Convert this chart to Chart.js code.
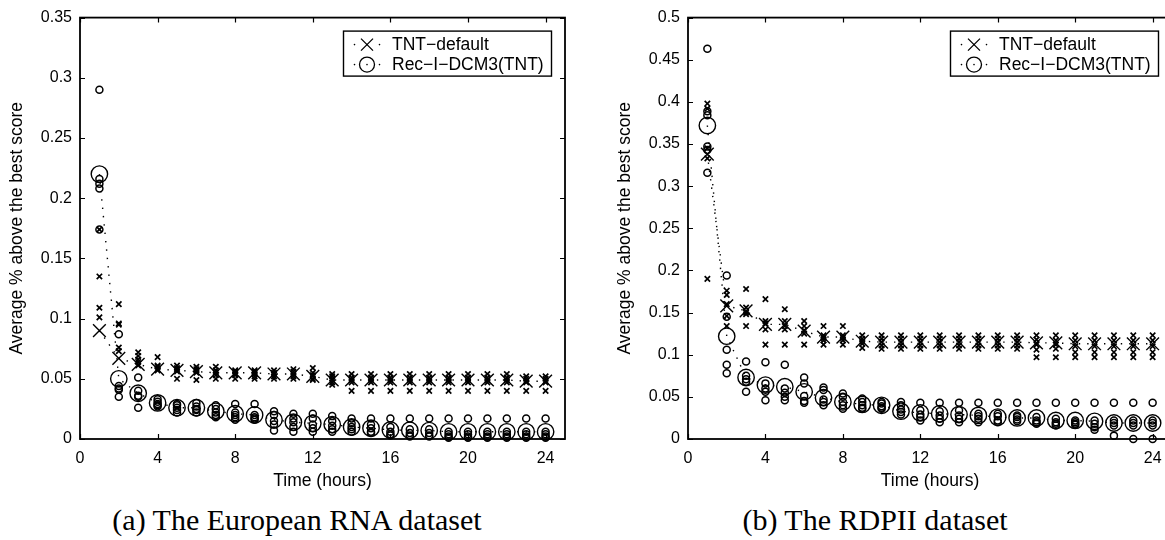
<!DOCTYPE html>
<html><head><meta charset="utf-8">
<script src="https://cdn.jsdelivr.net/npm/chart.js@4.4.1/dist/chart.umd.min.js"></script>
<style>
html,body{margin:0;padding:0;background:#fff;overflow:hidden;width:1165px;height:540px;position:relative}
.wrap{position:absolute;top:0;height:500px;overflow:visible}
#w1{left:0;width:590px}
#w2{left:608px;width:589px}
.cap{position:absolute;top:505px;line-height:30px;font-family:"Liberation Serif","Times New Roman",serif;font-size:30px;color:#000;white-space:nowrap;transform:translateX(-50%)}
</style></head>
<body>
<div class="wrap" id="w1"><canvas id="c1" width="590" height="500"></canvas></div>
<div class="wrap" id="w2"><canvas id="c2" width="589" height="500"></canvas></div>
<div class="cap" style="left:297px">(a) The European RNA dataset</div>
<div class="cap" style="left:875px">(b) The RDPII dataset</div>
<script>
const hours = [1,2,3,4,5,6,7,8,9,10,11,12,13,14,15,16,17,18,19,20,21,22,23,24];
const xTickVals = [0,4,8,12,16,20,24];
const rnaYTicks = [0,0.05,0.1,0.15,0.2,0.25,0.3,0.35];
const rdpYTicks = [0,0.05,0.1,0.15,0.2,0.25,0.3,0.35,0.4,0.45,0.5];
const seriesLabels = ['TNT\u2212default','Rec\u2212I\u2212DCM3(TNT)'];
const xTitle = 'Time (hours)';
const yTitle = 'Average % above the best score';

// European RNA dataset
const rnaTntMean = [0.090,0.067,0.062,0.058,0.057,0.056,0.055,0.055,0.055,0.054,0.054,0.052,0.049,0.049,0.049,0.049,0.049,0.049,0.049,0.049,0.049,0.049,0.048,0.048];
const rnaTntRuns = [
 [0.174,0.135,0.109,0.101],
 [0.112,0.096,0.095,0.076,0.073],
 [0.072,0.069,0.066,0.064,0.061],
 [0.068,0.061,0.060,0.058,0.057],
 [0.061,0.059,0.058,0.056,0.050],
 [0.060,0.058,0.057,0.055,0.049],
 [0.060,0.057,0.055,0.053,0.050],
 [0.057,0.056,0.054,0.053,0.050],
 [0.057,0.056,0.054,0.052,0.050],
 [0.057,0.055,0.054,0.052,0.050],
 [0.058,0.056,0.054,0.052,0.050],
 [0.059,0.055,0.053,0.050,0.049],
 [0.054,0.052,0.050,0.047,0.045],
 [0.054,0.051,0.049,0.047,0.040],
 [0.054,0.051,0.049,0.047,0.040],
 [0.054,0.051,0.049,0.047,0.040],
 [0.054,0.051,0.049,0.047,0.040],
 [0.054,0.051,0.049,0.047,0.040],
 [0.054,0.051,0.049,0.047,0.040],
 [0.054,0.051,0.049,0.047,0.040],
 [0.054,0.051,0.049,0.047,0.040],
 [0.054,0.051,0.049,0.047,0.040],
 [0.052,0.050,0.048,0.047,0.040],
 [0.052,0.050,0.048,0.047,0.040]
];
const rnaRecMean = [0.220,0.050,0.038,0.030,0.026,0.026,0.023,0.021,0.020,0.016,0.014,0.013,0.012,0.010,0.009,0.0075,0.0073,0.007,0.006,0.006,0.006,0.006,0.006,0.006];
const rnaRecRuns = [
 [0.290,0.216,0.212,0.208,0.174],
 [0.087,0.044,0.042,0.041,0.035],
 [0.051,0.040,0.036,0.035,0.026],
 [0.033,0.031,0.029,0.028,0.027],
 [0.029,0.028,0.026,0.024,0.022],
 [0.030,0.027,0.025,0.024,0.022],
 [0.028,0.025,0.022,0.020,0.018],
 [0.029,0.022,0.020,0.018,0.016],
 [0.029,0.020,0.018,0.017,0.016],
 [0.023,0.020,0.015,0.012,0.007],
 [0.021,0.017,0.014,0.010,0.006],
 [0.021,0.017,0.012,0.009,0.006],
 [0.019,0.015,0.011,0.008,0.006],
 [0.017,0.013,0.010,0.008,0.006],
 [0.017,0.012,0.009,0.006,0.005],
 [0.017,0.010,0.006,0.004,0.003],
 [0.017,0.008,0.005,0.003,0.002],
 [0.017,0.008,0.005,0.003,0.002],
 [0.017,0.006,0.004,0.002,0.001],
 [0.017,0.006,0.004,0.002,0.001],
 [0.017,0.006,0.004,0.002,0.001],
 [0.017,0.006,0.004,0.002,0.001],
 [0.017,0.006,0.004,0.002,0.001],
 [0.017,0.006,0.004,0.002,0.001]
];

// RDPII dataset
const rdpTntMean = [0.338,0.158,0.152,0.136,0.136,0.128,0.121,0.121,0.116,0.115,0.115,0.115,0.115,0.115,0.115,0.115,0.115,0.114,0.114,0.113,0.113,0.113,0.113,0.113];
const rdpTntRuns = [
 [0.398,0.392,0.345,0.333,0.190],
 [0.176,0.171,0.160,0.146,0.134],
 [0.178,0.156,0.150,0.148,0.134],
 [0.166,0.140,0.137,0.130,0.112],
 [0.154,0.140,0.134,0.130,0.112],
 [0.140,0.134,0.129,0.125,0.112],
 [0.134,0.123,0.120,0.117,0.112],
 [0.134,0.123,0.120,0.117,0.112],
 [0.123,0.119,0.116,0.113,0.108],
 [0.123,0.119,0.115,0.111,0.107],
 [0.123,0.119,0.115,0.111,0.107],
 [0.123,0.119,0.115,0.111,0.107],
 [0.123,0.119,0.115,0.111,0.107],
 [0.123,0.119,0.115,0.111,0.107],
 [0.123,0.119,0.115,0.111,0.107],
 [0.123,0.119,0.115,0.111,0.107],
 [0.123,0.119,0.115,0.111,0.107],
 [0.123,0.118,0.112,0.106,0.097],
 [0.123,0.117,0.112,0.107,0.097],
 [0.123,0.117,0.110,0.103,0.097],
 [0.123,0.117,0.110,0.103,0.097],
 [0.123,0.117,0.110,0.103,0.097],
 [0.123,0.117,0.110,0.103,0.097],
 [0.123,0.117,0.110,0.103,0.097]
];
const rdpRecMean = [0.372,0.122,0.073,0.064,0.062,0.056,0.049,0.044,0.041,0.040,0.033,0.031,0.030,0.029,0.028,0.026,0.025,0.025,0.022,0.022,0.021,0.019,0.019,0.019];
const rdpRecRuns = [
 [0.463,0.389,0.384,0.347,0.343,0.316],
 [0.194,0.145,0.106,0.088,0.078],
 [0.092,0.075,0.071,0.068,0.056],
 [0.091,0.066,0.060,0.056,0.046],
 [0.088,0.060,0.055,0.050,0.046],
 [0.073,0.066,0.051,0.045,0.043],
 [0.061,0.058,0.047,0.044,0.040],
 [0.054,0.050,0.044,0.040,0.036],
 [0.048,0.044,0.040,0.037,0.036],
 [0.044,0.042,0.039,0.037,0.036],
 [0.044,0.040,0.035,0.032,0.029],
 [0.043,0.034,0.029,0.026,0.022],
 [0.043,0.033,0.028,0.024,0.020],
 [0.043,0.034,0.028,0.024,0.020],
 [0.043,0.030,0.027,0.024,0.020],
 [0.043,0.030,0.027,0.022,0.020],
 [0.043,0.028,0.026,0.023,0.021],
 [0.043,0.026,0.022,0.020,0.018],
 [0.043,0.024,0.020,0.018,0.016],
 [0.043,0.022,0.020,0.018,0.017],
 [0.043,0.022,0.018,0.014,0.011],
 [0.043,0.022,0.019,0.016,0.004],
 [0.043,0.022,0.019,0.016,0.000],
 [0.043,0.022,0.019,0.016,0.000]
];

const FONT = '"Liberation Sans", Arial, Helvetica, sans-serif';

function runsToPoints(runs){
  const pts = [];
  runs.forEach((arr,i)=>arr.forEach(v=>pts.push({x:hours[i], y:v})));
  return pts;
}
function meanToPoints(m){ return m.map((v,i)=>({x:hours[i], y:v})); }
function fmt(v){ return String(+Number(v).toFixed(2)); }

const boxPlugin = {
  id:'boxAxes',
  beforeDatasetsDraw(chart){
    const {ctx, chartArea:a, scales:{x,y}} = chart;
    ctx.save();
    ctx.strokeStyle = '#000';
    ctx.lineWidth = 1.8;
    ctx.strokeRect(a.left, a.top, a.right-a.left, a.bottom-a.top);
    ctx.lineWidth = 1.2;
    ctx.beginPath();
    x.ticks.forEach(t=>{
      const px = Math.round(x.getPixelForValue(t.value))+0.5;
      ctx.moveTo(px, a.bottom); ctx.lineTo(px, a.bottom-5);
      ctx.moveTo(px, a.top); ctx.lineTo(px, a.top+5);
    });
    y.ticks.forEach(t=>{
      const py = Math.round(y.getPixelForValue(t.value))+0.5;
      ctx.moveTo(a.left, py); ctx.lineTo(a.left+5, py);
      ctx.moveTo(a.right, py); ctx.lineTo(a.right-5, py);
    });
    ctx.stroke();
    ctx.restore();
  }
};

const legendPlugin = {
  id:'mLegend',
  afterDatasetsDraw(chart){
    const {ctx, chartArea:a} = chart;
    const w = 208, h = 45;
    const x0 = a.right - 14 - w, y0 = a.top + 13;
    ctx.save();
    ctx.fillStyle = '#fff';
    ctx.fillRect(x0, y0, w, h);
    ctx.strokeStyle = '#000';
    ctx.lineWidth = 1.4;
    ctx.strokeRect(x0+0.5, y0+0.5, w, h);
    const items = [chart.data.datasets[2], chart.data.datasets[3]];
    items.forEach((ds,i)=>{
      const cy = y0 + 14 + i*20;
      const mx = x0 + 24;
      ctx.fillStyle = '#000';
      [mx-12.5, mx, mx+12.5].forEach(dx=>{ ctx.beginPath(); ctx.arc(dx, cy, 0.8, 0, Math.PI*2); ctx.fill(); });
      ctx.lineWidth = 1.3;
      ctx.beginPath();
      if (ds.pointStyle === 'crossRot') {
        const r = 6;
        ctx.moveTo(mx-r, cy-r); ctx.lineTo(mx+r, cy+r);
        ctx.moveTo(mx-r, cy+r); ctx.lineTo(mx+r, cy-r);
      } else {
        ctx.arc(mx, cy, 7.5, 0, Math.PI*2);
      }
      ctx.stroke();
      ctx.fillStyle = '#000';
      ctx.font = '17.5px ' + FONT;
      ctx.textBaseline = 'middle';
      ctx.textAlign = 'left';
      ctx.fillText(ds.label, x0 + 49, cy + 1);
    });
    ctx.restore();
  }
};

function makeChart(id, tntRuns, tntMean, recRuns, recMean, yTicks){
  const yMax = yTicks[yTicks.length-1];
  return new Chart(document.getElementById(id), {
    type:'scatter',
    data:{ datasets:[
      { label:'TNT runs', data:runsToPoints(tntRuns), pointStyle:'crossRot', pointRadius:3.8, pointBorderWidth:1.7,
        borderColor:'#000', backgroundColor:'#000', showLine:false, clip:false },
      { label:'Rec runs', data:runsToPoints(recRuns), pointStyle:'circle', pointRadius:3.5, pointBorderWidth:1.5,
        borderColor:'#000', backgroundColor:'rgba(0,0,0,0)', showLine:false, clip:false },
      { label:seriesLabels[0], data:meanToPoints(tntMean), pointStyle:'crossRot', pointRadius:9, pointBorderWidth:1.4,
        borderColor:'#000', backgroundColor:'rgba(0,0,0,0)', showLine:true, borderWidth:1.4, borderDash:[1.4,7], tension:0, clip:false },
      { label:seriesLabels[1], data:meanToPoints(recMean), pointStyle:'circle', pointRadius:8.2, pointBorderWidth:1.4,
        borderColor:'#000', backgroundColor:'rgba(0,0,0,0)', showLine:true, borderWidth:1.4, borderDash:[1.4,7], tension:0, clip:false }
    ]},
    options:{
      animation:false, responsive:false, devicePixelRatio:1, events:[],
      layout:{ padding:{ left:0, right:25, top:15, bottom:0 } },
      plugins:{ legend:{display:false}, tooltip:{enabled:false} },
      scales:{
        x:{ type:'linear', min:0, max:25,
          afterBuildTicks:s=>{ s.ticks = xTickVals.map(v=>({value:v})); },
          afterFit:s=>{ s.height = 61; },
          grid:{display:false, drawTicks:false}, border:{display:false},
          ticks:{ color:'#000', font:{family:FONT, size:16}, padding:10, maxRotation:0, callback:v=>fmt(v) },
          title:{ display:true, text:xTitle, color:'#000', font:{family:FONT, size:17.5}, padding:{top:0, bottom:8} }
        },
        y:{ type:'linear', min:0, max:yMax,
          afterBuildTicks:s=>{ s.ticks = yTicks.map(v=>({value:v})); },
          afterFit:s=>{ s.width = 80; },
          grid:{display:false, drawTicks:false}, border:{display:false},
          ticks:{ color:'#000', font:{family:FONT, size:16}, padding:8, callback:v=>fmt(v) },
          title:{ display:true, text:yTitle, color:'#000', font:{family:FONT, size:17.5}, padding:{top:7, bottom:0} }
        }
      }
    },
    plugins:[boxPlugin, legendPlugin]
  });
}

makeChart('c1', rnaTntRuns, rnaTntMean, rnaRecRuns, rnaRecMean, rnaYTicks);
makeChart('c2', rdpTntRuns, rdpTntMean, rdpRecRuns, rdpRecMean, rdpYTicks);
</script>
</body></html>
